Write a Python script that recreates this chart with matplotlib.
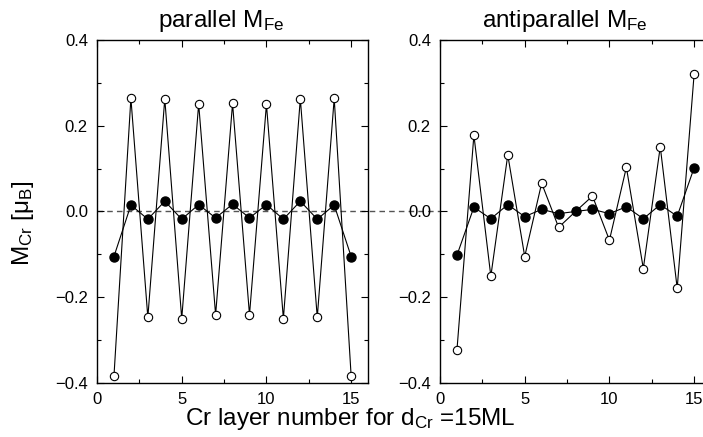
import matplotlib
matplotlib.use("Agg")
import matplotlib.pyplot as plt
from matplotlib.ticker import MultipleLocator

plt.rcParams["font.family"] = ["Liberation Sans", "DejaVu Sans"]
plt.rcParams["mathtext.fontset"] = "custom"
plt.rcParams["mathtext.rm"] = "Liberation Sans"
plt.rcParams["mathtext.it"] = "Liberation Sans:italic"

# Cr layer index
layers = list(range(1, 16))

# parallel M_Fe
par_open = [-0.384, 0.264, -0.247, 0.263, -0.250, 0.251, -0.241, 0.252,
            -0.241, 0.250, -0.250, 0.263, -0.247, 0.264, -0.384]
par_filled = [-0.105, 0.015, -0.018, 0.024, -0.018, 0.016, -0.015, 0.017,
              -0.015, 0.016, -0.018, 0.024, -0.018, 0.015, -0.105]

# antiparallel M_Fe
anti_open = [-0.323, 0.178, -0.151, 0.132, -0.105, 0.066, -0.037, 0.000,
             0.036, -0.067, 0.103, -0.133, 0.151, -0.179, 0.321]
anti_filled = [-0.102, 0.010, -0.017, 0.016, -0.012, 0.005, -0.005, 0.000,
               0.005, -0.005, 0.011, -0.017, 0.016, -0.011, 0.102]

titles = ["parallel M$_{\\mathrm{Fe}}$", "antiparallel M$_{\\mathrm{Fe}}$"]

fig = plt.figure(figsize=(7.03, 4.37), dpi=100)
ax1 = fig.add_axes([0.1380, 0.1236, 0.3856, 0.7849])
ax2 = fig.add_axes([0.6259, 0.1236, 0.3856, 0.7849])

for ax, op, fi, title in [(ax1, par_open, par_filled, titles[0]),
                          (ax2, anti_open, anti_filled, titles[1])]:
    ax.plot(layers, op, color="black", lw=0.8, marker="o", ms=6,
            mfc="white", mec="black", mew=0.8, zorder=3)
    ax.plot(layers, fi, color="black", lw=0.8, marker="o", ms=6.5,
            mfc="black", mec="black", zorder=4)
    ax.set_xlim(0, 16)
    ax.set_ylim(-0.4, 0.4)
    ax.xaxis.set_major_locator(MultipleLocator(5))
    ax.xaxis.set_minor_locator(MultipleLocator(2.5))
    ax.yaxis.set_major_locator(MultipleLocator(0.2))
    ax.yaxis.set_minor_locator(MultipleLocator(0.1))
    ax.set_yticklabels([f"{v:.1f}".replace("-", "\u2212") for v in ax.get_yticks()])
    ax.tick_params(which="both", direction="in", top=True, right=True,
                   labelsize=12, width=0.8, pad=6.5)
    ax.tick_params(which="major", length=5)
    ax.tick_params(which="minor", length=3)
    for s in ax.spines.values():
        s.set_linewidth(1.0)
    ax.set_title(title, fontsize=17.5, pad=9, x=0.46)

# zero line running across both panels
ax1.plot([0, 40], [0, 0], ls=(0, (4, 3)), color="#555555", lw=1.0,
         clip_on=False, zorder=1)

ax1.set_ylabel("M$_{\\mathrm{Cr}}$ [μ$_{\\mathrm{B}}$]", fontsize=17.5)
ax1.yaxis.set_label_coords(-0.225, 0.465)
fig.text(0.4986, 0.027, "Cr layer number for d$_{\\mathrm{Cr}}$ =15ML",
         ha="center", fontsize=17.5)

fig.savefig("out.png", dpi=100)
